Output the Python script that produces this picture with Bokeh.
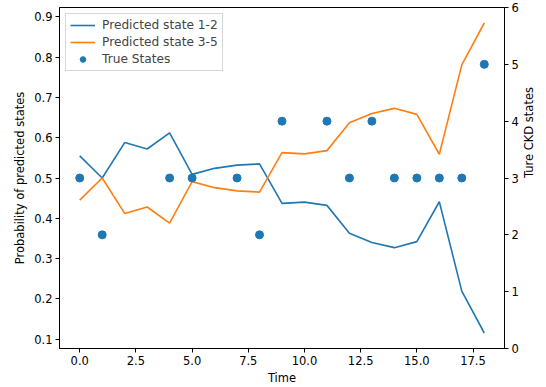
import math
from bokeh.plotting import figure
from bokeh.models import (LinearAxis, Range1d, FixedTicker, PrintfTickFormatter,
                          Legend, LegendItem, ColumnDataSource)
from bokeh.embed import file_html
from bokeh.resources import INLINE

# ---- data ----
time = list(range(19))
state_12 = [0.555, 0.500, 0.588, 0.572, 0.612, 0.509, 0.524, 0.532, 0.535, 0.437,
            0.440, 0.432, 0.363, 0.340, 0.327, 0.342, 0.441, 0.219, 0.115]
state_35 = [0.445, 0.500, 0.412, 0.428, 0.388, 0.491, 0.476, 0.468, 0.465, 0.563,
            0.560, 0.568, 0.637, 0.660, 0.673, 0.658, 0.559, 0.781, 0.885]
true_time = [0, 1, 4, 5, 7, 8, 9, 11, 12, 13, 14, 15, 16, 17, 18]
true_states = [3, 2, 3, 3, 3, 2, 4, 4, 3, 4, 3, 3, 3, 3, 5]
x_ticks = [0, 2.5, 5, 7.5, 10, 12.5, 15, 17.5]
left_ticks = [0.1, 0.2, 0.3, 0.4, 0.5, 0.6, 0.7, 0.8, 0.9]
right_ticks = [0, 1, 2, 3, 4, 5, 6]

BLUE = "#1f77b4"
ORANGE = "#ff7f0e"
FONT = "DejaVu Sans"
FS = "11.5px"

p = figure(width=546, height=387, output_backend="svg", toolbar_location=None,
           x_range=Range1d(-0.9, 18.9), y_range=Range1d(0.0765, 0.9235),
           min_border_left=59, min_border_right=42, min_border_top=7, min_border_bottom=38)
p.extra_y_ranges = {"right": Range1d(0, 6)}

src = ColumnDataSource(dict(t=time, a=state_12, b=state_35))
tsrc = ColumnDataSource(dict(t=true_time, s=true_states))

r1 = p.line("t", "a", source=src, line_color=BLUE, line_width=1.6)
r2 = p.line("t", "b", source=src, line_color=ORANGE, line_width=1.6)
r3 = p.scatter("t", "s", source=tsrc, y_range_name="right", size=8,
               fill_color=BLUE, line_color=BLUE)

p.grid.visible = False
p.outline_line_color = "black"
p.outline_line_width = 1
p.background_fill_color = "white"
p.border_fill_color = "white"

right_axis = LinearAxis(y_range_name="right", axis_label="Ture CKD states",
                        axis_label_orientation=math.pi / 2)
p.add_layout(right_axis, "right")

p.xaxis.ticker = FixedTicker(ticks=x_ticks)
p.xaxis.formatter = PrintfTickFormatter(format="%.1f")
p.xaxis.axis_label = "Time"
p.yaxis[0].ticker = FixedTicker(ticks=left_ticks)
p.yaxis[0].formatter = PrintfTickFormatter(format="%.1f")
p.yaxis[0].axis_label = "Probability of predicted states"
right_axis.ticker = FixedTicker(ticks=right_ticks)

for ax in [p.xaxis[0], p.yaxis[0], right_axis]:
    ax.major_tick_in = 0
    ax.major_tick_out = 4
    ax.minor_tick_line_color = None
    ax.axis_line_color = "black"
    ax.major_tick_line_color = "black"
    ax.major_label_text_font = FONT
    ax.major_label_text_font_size = FS
    ax.major_label_text_color = "black"
    ax.axis_label_text_font = FONT
    ax.axis_label_text_font_size = FS
    ax.axis_label_text_font_style = "normal"
    ax.axis_label_text_color = "black"
    ax.major_label_standoff = 3

p.yaxis[0].axis_label_standoff = 4
p.xaxis[0].axis_label_standoff = 3
right_axis.axis_label_standoff = 7
right_axis.axis_label_text_line_height = 0.6

legend = Legend(items=[
    LegendItem(label="Predicted state 1-2", renderers=[r1]),
    LegendItem(label="Predicted state 3-5", renderers=[r2]),
    LegendItem(label="True States", renderers=[r3]),
], location="top_left")
legend.label_text_font = FONT
legend.label_text_font_size = "12.2px"
legend.glyph_width = 25
legend.glyph_height = 14
legend.label_height = 14
legend.label_standoff = 7
legend.spacing = 3
legend.padding = 4
legend.margin = 6
legend.border_line_color = "#cccccc"
legend.border_line_alpha = 0.8
legend.background_fill_alpha = 0.8
p.add_layout(legend)

open("out.html", "w").write(file_html(p, INLINE))
